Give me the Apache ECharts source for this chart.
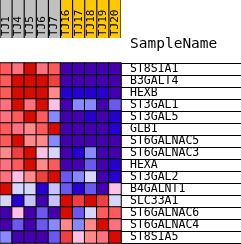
<!DOCTYPE html>
<html>
<head>
<meta charset="utf-8">
<script src="https://cdn.jsdelivr.net/npm/echarts@6/dist/echarts.min.js"></script>
<style>
  html, body { margin: 0; padding: 0; background: #fff; }
  #chart { width: 241px; height: 244px; }
</style>
</head>
<body>
<div id="chart"></div>
<script>
// samples across the top, two phenotype groups
const samples = ['TJ1', 'TJ4', 'TJ5', 'TJ6', 'TJ7', 'TJ16', 'TJ17', 'TJ18', 'TJ19', 'TJ20'];
const sampleGroup = [0, 0, 0, 0, 0, 1, 1, 1, 1, 1];
const groupColors = ['#C0C0C0', '#FFC800'];

const genes = ['ST8SIA1', 'B3GALT4', 'HEXB', 'ST3GAL1', 'ST3GAL5', 'GLB1', 'ST6GALNAC5',
  'ST6GALNAC3', 'HEXA', 'ST3GAL2', 'B4GALNT1', 'SLC33A1', 'ST6GALNAC6', 'ST6GALNAC4', 'ST8SIA5'];

// colour level per cell (0 = lowest / blue ... 11 = highest / red)
const levels = [
  [9, 8, 11, 8, 9, 0, 0, 0, 0, 0],
  [9, 11, 11, 11, 10, 0, 0, 0, 0, 0],
  [9, 11, 11, 11, 7, 1, 1, 1, 1, 0],
  [8, 11, 8, 11, 6, 0, 3, 3, 0, 2],
  [8, 9, 11, 9, 3, 0, 0, 1, 0, 1],
  [9, 8, 7, 9, 11, 0, 0, 0, 0, 1],
  [9, 11, 7, 7, 3, 0, 0, 0, 0, 0],
  [7, 10, 11, 6, 5, 0, 1, 3, 0, 0],
  [8, 9, 11, 7, 9, 0, 0, 2, 0, 1],
  [8, 6, 7, 10, 11, 2, 3, 5, 0, 1],
  [11, 5, 5, 1, 4, 2, 1, 2, 0, 6],
  [5, 1, 4, 0, 4, 11, 10, 11, 10, 5],
  [0, 6, 0, 2, 0, 11, 2, 5, 9, 9],
  [0, 2, 0, 2, 3, 7, 3, 7, 11, 8],
  [3, 0, 0, 0, 2, 10, 6, 7, 8, 11]
];

const palette = ['#4500AD', '#2700D1', '#6B58EF', '#8888FF', '#C7C1FF', '#D5D5FF',
  '#FFC0E5', '#FF8989', '#FF7080', '#FF5A5A', '#EF4040', '#D60C00'];

const mono = 'DejaVu Sans Mono';

let cells = [];
levels.forEach((row, i) => {
  row.forEach((v, j) => {
    cells.push([j, i, v]);
  });
});

let headerData = samples.map((s, j) => ({
  value: 1,
  itemStyle: { color: groupColors[sampleGroup[j]] }
}));

let chart = echarts.init(document.getElementById('chart'));

let option = {
  animation: false,
  backgroundColor: '#fff',
  title: {
    text: 'SampleName',
    left: 130,
    top: 37,
    padding: 0,
    textStyle: { fontFamily: mono, fontSize: 14.5, fontWeight: 'normal', color: '#000' }
  },
  grid: [
    { left: 0, top: 63, width: 121, height: 180 },
    { left: 0, top: 0, width: 121, height: 38, show: true, backgroundColor: '#000', borderWidth: 0 },
    { left: 121, top: 63, width: 120, height: 180 }
  ],
  xAxis: [
    { type: 'category', gridIndex: 0, data: samples, show: false },
    { type: 'category', gridIndex: 1, data: samples, show: false },
    { type: 'value', gridIndex: 2, show: false }
  ],
  yAxis: [
    { type: 'category', gridIndex: 0, data: genes, inverse: true, show: false },
    { type: 'value', gridIndex: 1, min: 0, max: 1, show: false },
    {
      type: 'category', gridIndex: 2, data: genes, inverse: true, position: 'left',
      axisLine: { show: false },
      axisTick: { show: false },
      axisLabel: {
        inside: true, margin: 9, interval: 0, color: '#000',
        fontFamily: mono, fontSize: 11.5, padding: [6, 0, 0, 0]
      },
      splitLine: { show: true, interval: 0, lineStyle: { color: '#000', width: 1 } }
    }
  ],
  visualMap: {
    type: 'piecewise',
    show: false,
    seriesIndex: 0,
    dimension: 2,
    pieces: palette.map((c, k) => ({ value: k, color: c }))
  },
  series: [
    {
      type: 'heatmap',
      xAxisIndex: 0,
      yAxisIndex: 0,
      data: cells,
      itemStyle: { borderColor: '#000', borderWidth: 1 },
      emphasis: { disabled: true }
    },
    {
      type: 'bar',
      xAxisIndex: 1,
      yAxisIndex: 1,
      barWidth: 11,
      data: headerData,
      label: {
        show: true,
        position: 'insideBottom',
        rotate: 90,
        align: 'left',
        verticalAlign: 'middle',
        distance: 2,
        formatter: p => p.name,
        fontFamily: mono,
        fontSize: 11,
        color: '#000'
      },
      emphasis: { disabled: true }
    }
  ]
};

chart.setOption(option);
</script>
</body>
</html>
